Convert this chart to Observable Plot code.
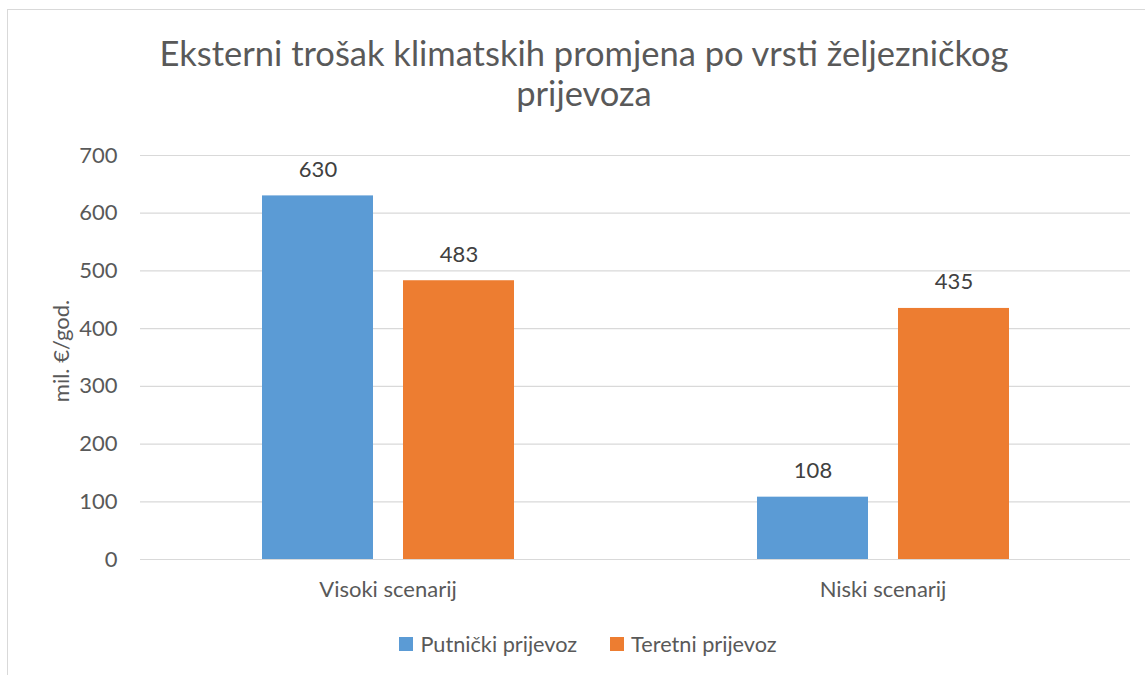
<!DOCTYPE html>
<html>
<head>
<meta charset="utf-8">
<script src="https://cdn.jsdelivr.net/npm/d3@7"></script>
<script src="https://cdn.jsdelivr.net/npm/@observablehq/plot@0.6"></script>
<style>
  html, body { margin: 0; padding: 0; background: #fff; }
  body { width: 1145px; height: 675px; position: relative; overflow: hidden; font-family: Lato, "Open Sans", sans-serif; }
  #frame { position: absolute; left: 7px; top: 9px; width: 1200px; height: 700px; border-left: 1px solid #d9d9d9; border-top: 1px solid #d9d9d9; }
  #title { position: absolute; left: 0; width: 1168px; top: 33px; text-align: center; font-size: 34.5px; line-height: 40px; color: #595959; }
  #chart { position: absolute; left: 0; top: 130px; }
  #ylabel { position: absolute; left: 60px; top: 351px; width: 0; height: 0; }
  #ylabel span { position: absolute; left: 0; top: 0; transform: translate(-50%, -50%) rotate(-90deg); white-space: nowrap; font-size: 22px; color: #595959; }
  #legend { position: absolute; left: 0; width: 1176px; top: 631px; display: flex; justify-content: center; gap: 33px; font-size: 21.7px; line-height: 26px; color: #595959; }
  #legend span.item { display: inline-flex; align-items: center; }
  #legend span.sw { display: inline-block; width: 14px; height: 14px; margin-right: 7px; }
</style>
</head>
<body>
<div id="frame"></div>
<div id="title">Eksterni trošak klimatskih promjena po vrsti željezničkog<br>prijevoza</div>
<div id="chart"></div>
<div id="ylabel"><span>mil. €/god.</span></div>
<div id="legend"></div>
<script>
const categories = ["Visoki scenarij", "Niski scenarij"];
const seriesNames = ["Putnički prijevoz", "Teretni prijevoz"];
const putnicki = [630, 108];
const teretni = [483, 435];
const colors = ["#5B9BD5", "#ED7D31"];
const yTicks = [0, 100, 200, 300, 400, 500, 600, 700];

const data = [];
categories.forEach((c, i) => {
  data.push({category: c, series: seriesNames[0], value: putnicki[i]});
  data.push({category: c, series: seriesNames[1], value: teretni[i]});
});

const chart = Plot.plot({
  width: 1145,
  height: 490,
  marginLeft: 140,
  marginRight: 15,
  marginTop: 25,
  marginBottom: 61,
  style: {fontFamily: "Lato, 'Open Sans', sans-serif", fontSize: "22px", color: "#595959", background: "transparent"},
  fx: {domain: categories, padding: 0, label: null, axis: null},
  x: {domain: seriesNames, paddingInner: 0.2128, paddingOuter: 0.8617, axis: null},
  y: {domain: [0, 700], ticks: yTicks, label: null, axis: null},
  color: {domain: seriesNames, range: colors},
  marks: [
    Plot.ruleY(yTicks, {stroke: "#d9d9d9", strokeWidth: 1.2}),
    Plot.barY(data, {fx: "category", x: "series", y: "value", fill: "series"}),
    Plot.text(data, {fx: "category", x: "series", y: "value", text: d => String(d.value), dy: -26, fill: "#404040", fontSize: 22}),
    Plot.axisY({ticks: yTicks, tickSize: 0, tickPadding: 23, fontSize: 22, label: null, fill: "#595959"}),
    Plot.axisFx({anchor: "bottom", tickSize: 0, tickPadding: 22, fontSize: 22, label: null, fill: "#595959"})
  ]
});
document.getElementById("chart").appendChild(chart);

const legend = document.getElementById("legend");
seriesNames.forEach((s, i) => {
  const item = document.createElement("span");
  item.className = "item";
  const sw = document.createElement("span");
  sw.className = "sw";
  sw.style.background = colors[i];
  item.appendChild(sw);
  item.appendChild(document.createTextNode(s));
  legend.appendChild(item);
});
</script>
</body>
</html>
